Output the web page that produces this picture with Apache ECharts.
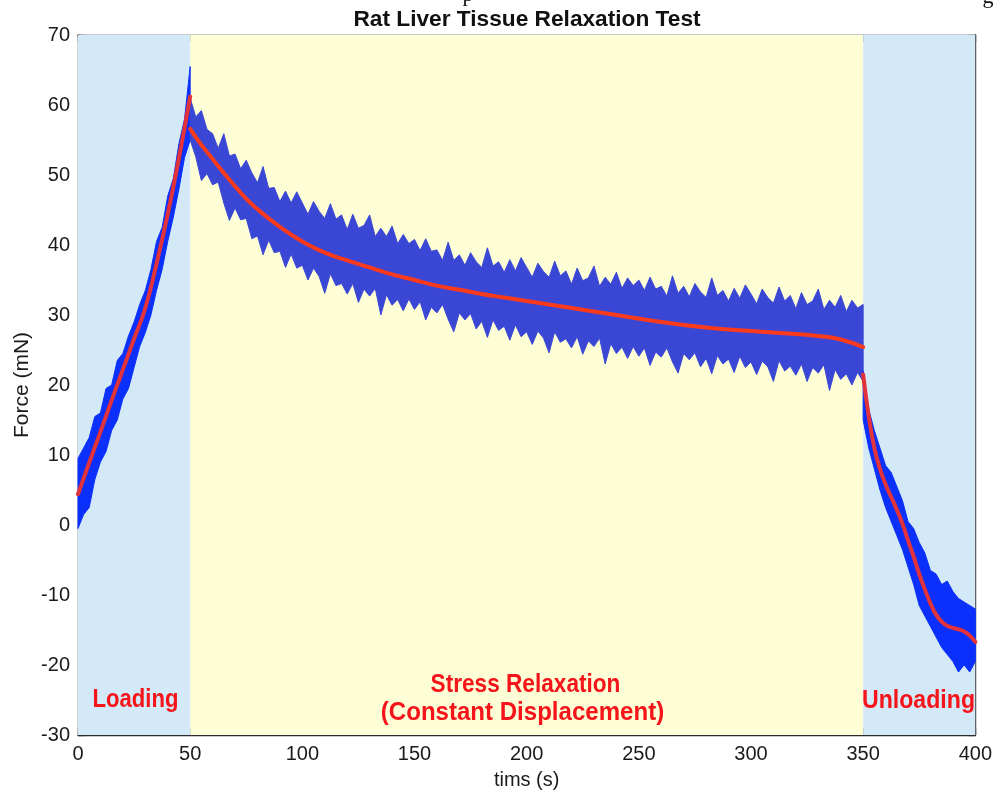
<!DOCTYPE html>
<html>
<head>
<meta charset="utf-8">
<script src="https://cdn.jsdelivr.net/npm/echarts@6/dist/echarts.min.js"></script>
<style>
html,body{margin:0;padding:0;background:#fff;}
#chart{width:995px;height:795px;}
</style>
</head>
<body>
<div id="chart"></div>
<script>
// ---------- data ----------
var xTicks = [0, 50, 100, 150, 200, 250, 300, 350, 400];
var yTicks = [-30, -20, -10, 0, 10, 20, 30, 40, 50, 60, 70];

var phaseStart = [0, 50, 350];
var phaseEnd   = [50, 350, 400];
var phaseNames = ['Loading', 'Stress Relaxation', 'Unloading'];

// raw (noisy) signal envelope: loading
var loadT = [0,2.5,5,7.5,10,12.5,15,17.5,20,22.5,25,27.5,30,32.5,35,37.5,40,42.5,45,47.5,50];
var loadUpper = [9.5,11.0,12.5,15.5,16.0,19.5,20.0,23.5,24.5,27.0,29.0,31.5,33.5,36.5,40.5,42.5,47.0,49.5,54.5,58.0,65.5];
var loadLower = [-0.5,1.5,2.5,6.5,9.0,10.5,13.5,15.0,18.0,19.5,22.5,25.5,27.5,30.0,33.5,36.5,40.5,44.0,48.0,52.5,55.0];

// raw (noisy) signal envelope: stress relaxation
var relaxT = [50,52.5,55,57.5,60,62.5,65,67.5,70,72.5,
  75,77.5,80,82.5,85,87.5,90,92.5,95,97.5,
  100,102.5,105,107.5,110,112.5,115,117.5,120,122.5,
  125,127.5,130,132.5,135,137.5,140,142.5,145,147.5,
  150,152.5,155,157.5,160,162.5,165,167.5,170,172.5,
  175,177.5,180,182.5,185,187.5,190,192.5,195,197.5,
  200,202.5,205,207.5,210,212.5,215,217.5,220,222.5,
  225,227.5,230,232.5,235,237.5,240,242.5,245,247.5,
  250,252.5,255,257.5,260,262.5,265,267.5,270,272.5,
  275,277.5,280,282.5,285,287.5,290,292.5,295,297.5,
  300,302.5,305,307.5,310,312.5,315,317.5,320,322.5,
  325,327.5,330,332.5,335,337.5,340,342.5,345,347.5,
  350];
var relaxUpper = [61.0,58.3,59.2,56.5,55.9,53.8,55.9,52.7,53.0,50.9,
  52.1,50.3,48.9,51.2,48.1,48.2,46.2,47.7,46.0,47.6,
  46.0,44.4,46.2,44.8,43.8,45.9,43.7,44.3,42.2,44.4,
  42.4,42.8,44.3,41.2,42.4,41.2,42.7,40.2,41.5,40.2,
  40.8,39.2,40.9,39.1,39.3,37.8,40.4,37.8,38.6,37.1,
  38.9,37.6,36.8,39.6,37.0,37.6,36.1,37.9,36.3,38.2,
  36.8,35.4,37.4,36.2,35.4,37.7,35.6,36.3,34.4,36.7,
  34.9,35.3,37.0,34.1,35.4,34.4,36.1,33.8,35.3,34.2,
  35.0,33.5,35.4,33.7,34.1,32.7,35.6,33.1,34.1,32.6,
  34.5,33.3,32.5,35.3,32.8,33.5,32.0,33.8,32.4,34.3,
  33.0,31.6,33.7,32.5,31.7,34.0,32.0,32.8,30.9,33.2,
  31.5,32.0,33.7,30.8,32.1,31.1,32.8,30.5,32.1,31.0,
  31.5];
var relaxLower = [55.0,52.6,49.2,50.2,48.6,49.0,46.0,43.5,45.3,43.6,
  43.8,40.9,41.3,38.6,40.7,38.9,39.1,36.8,38.7,36.7,
  37.1,35.0,36.7,35.5,33.1,35.9,34.2,34.5,33.0,34.5,
  31.8,33.7,32.7,33.8,30.0,32.9,31.4,32.2,30.6,32.3,
  30.8,31.9,29.3,31.1,30.3,31.5,29.4,27.6,30.3,29.3,
  30.2,28.0,29.1,26.8,29.3,27.8,28.4,26.4,28.6,26.9,
  27.6,25.8,27.7,26.7,24.6,27.6,26.1,26.6,25.3,26.9,
  24.4,26.3,25.5,26.7,23.0,25.9,24.5,25.4,23.8,25.5,
  24.1,25.3,22.8,24.7,24.0,25.3,23.3,21.7,24.5,23.6,
  24.6,22.6,23.8,21.6,24.2,23.0,23.7,21.8,24.1,22.5,
  23.3,21.5,23.4,22.6,20.5,23.5,22.0,22.7,21.4,23.0,
  20.5,22.5,21.7,22.9,19.2,22.2,20.8,21.6,20.0,21.8,
  20.5];

// raw (noisy) signal envelope: unloading
var unloadT = [350,352.5,355,357.5,360,362.5,365,367.5,370,372.5,375,377.5,380,382.5,385,387.5,390,392.5,395,397.5,400];
var unloadUpper = [22.0,16.5,13.5,11.0,8.5,7.5,5.5,3.5,0.5,-0.5,-2.5,-4.0,-6.5,-7.0,-8.5,-8.0,-9.5,-10.5,-11.0,-11.5,-12.0];
var unloadLower = [15.0,11.0,8.0,5.0,2.5,0.5,-1.5,-3.5,-6.0,-8.5,-11.5,-13.0,-14.5,-16.0,-17.5,-18.5,-19.5,-21.0,-20.0,-21.0,-19.5];

// fitted curves (red)
var loadRedT = [0,5,10,15,20,25,30,35,40,45,50];
var loadRed  = [4.4,8.9,13.3,17.8,22.2,26.6,31.0,37.3,44.4,52.4,61.2];
var relaxRedT = [50,55,60,65,70,75,80,90,100,110,120,130,140,150,160,170,180,190,200,220,240,260,280,300,320,330,340,350];
var relaxRed  = [56.6,54.3,52.3,50.3,48.4,46.6,45.1,42.6,40.5,38.9,37.8,36.8,35.8,35.0,34.2,33.6,33.0,32.5,32.0,31.0,30.0,29.0,28.2,27.7,27.3,27.0,26.5,25.4];
var unloadRedT = [350,352.5,355,357.5,360,362.5,365,367.5,370,372.5,375,377.5,380,382.5,385,387.5,390,392.5,395,397.5,400];
var unloadRed  = [21.5,15.5,11.0,8.0,5.8,4.0,2.2,0.2,-2.2,-4.5,-7.0,-9.2,-11.2,-12.8,-13.8,-14.4,-14.7,-14.9,-15.2,-15.8,-16.7];

// ---------- chart ----------
var BG_COLORS = ['#d3e9f7', '#fefed6', '#d3e9f7'];
var AXIS_COLOR = '#2b2b2b';
var FONT = '"Liberation Sans", Helvetica, Arial, sans-serif';
var ANN_FONT = '"Liberation Sans", Arial, sans-serif';

function pairs(T, V) { return T.map(function (t, i) { return [t, V[i]]; }); }

function bandSeries(name, T, U, L, color) {
  return {
    type: 'custom', name: name, coordinateSystem: 'cartesian2d', silent: true, z: 3,
    data: T.map(function (t, i) { return [t, L[i], U[i]]; }),
    encode: { x: 0, y: [1, 2] },
    renderItem: function (params, api) {
      if (params.dataIndex !== 0) return null;
      var pts = [];
      for (var i = 0; i < T.length; i++) pts.push(api.coord([T[i], U[i]]));
      for (var j = T.length - 1; j >= 0; j--) pts.push(api.coord([T[j], L[j]]));
      return { type: 'polygon', shape: { points: pts }, style: { fill: color, stroke: color, lineWidth: 1 } };
    }
  };
}

function redSeries(name, T, V, color) {
  return {
    type: 'line', name: name, data: pairs(T, V), showSymbol: false, symbol: 'none',
    smooth: 0.5, silent: true, z: 5,
    lineStyle: { color: color, width: 4, cap: 'round', join: 'round' }
  };
}

var chart = echarts.init(document.getElementById('chart'), null, { renderer: 'canvas' });

var axisCommon = {
  type: 'value',
  axisLine: { show: true, onZero: false, lineStyle: { color: AXIS_COLOR, width: 1.4 } },
  axisTick: { show: true, inside: true, length: 7, lineStyle: { color: AXIS_COLOR, width: 1.3 } },
  splitLine: { show: false }
};

function annot(text, x, y, sx) {
  return { type: 'text', x: x, y: y, z: 10, scaleX: sx, scaleY: 1,
           style: { text: text, font: 'bold 26px ' + ANN_FONT, fill: '#f5141a', textAlign: 'center', textVerticalAlign: 'middle' } };
}

var option = {
  animation: false,
  backgroundColor: '#ffffff',
  grid: { left: 78, right: 19, top: 35, bottom: 54, containLabel: false },
  xAxis: [
    Object.assign({}, axisCommon, {
      position: 'bottom', min: xTicks[0], max: xTicks[xTicks.length - 1], interval: xTicks[1] - xTicks[0],
      axisLabel: { show: true, fontSize: 20, color: '#1a1a1a', fontFamily: FONT, margin: 9 },
      name: 'tims (s)', nameLocation: 'middle', nameGap: 35,
      nameTextStyle: { fontSize: 20, color: '#1a1a1a', fontFamily: FONT }
    }),
    Object.assign({}, axisCommon, {
      position: 'top', min: xTicks[0], max: xTicks[xTicks.length - 1], interval: xTicks[1] - xTicks[0],
      axisLabel: { show: false }
    })
  ],
  yAxis: [
    Object.assign({}, axisCommon, {
      position: 'left', min: yTicks[0], max: yTicks[yTicks.length - 1], interval: yTicks[1] - yTicks[0],
      axisLabel: { show: true, fontSize: 20, color: '#1a1a1a', fontFamily: FONT, margin: 8 },
      name: 'Force (mN)', nameLocation: 'middle', nameGap: 45, nameRotate: 90, nameMoveOverlap: false,
      nameTextStyle: { fontSize: 21, color: '#1a1a1a', fontFamily: FONT }
    }),
    Object.assign({}, axisCommon, {
      position: 'right', min: yTicks[0], max: yTicks[yTicks.length - 1], interval: yTicks[1] - yTicks[0],
      axisLabel: { show: false }
    })
  ],
  series: [
    {
      type: 'custom', name: 'phases', coordinateSystem: 'cartesian2d', silent: true, z: 1,
      data: phaseStart.map(function (s, i) { return [s, phaseEnd[i]]; }),
      encode: { x: [0, 1] },
      renderItem: function (params, api) {
        var p0 = api.coord([api.value(0), yTicks[yTicks.length - 1]]);
        var p1 = api.coord([api.value(1), yTicks[0]]);
        return { type: 'rect', shape: { x: p0[0], y: p0[1], width: p1[0] - p0[0], height: p1[1] - p0[1] },
                 style: { fill: BG_COLORS[params.dataIndex] } };
      }
    },
    bandSeries('Loading raw', loadT, loadUpper, loadLower, '#0b30fb'),
    bandSeries('Relaxation raw', relaxT, relaxUpper, relaxLower, '#3a47d5'),
    bandSeries('Unloading raw', unloadT, unloadUpper, unloadLower, '#0b30fb'),
    redSeries('Loading fit', loadRedT, loadRed, '#e2323a'),
    redSeries('Relaxation fit', relaxRedT, relaxRed, '#fb3a1c'),
    redSeries('Unloading fit', unloadRedT, unloadRed, '#e2323a')
  ],
  graphic: [
    { type: 'text', x: 527, y: 8, z: 10, style: { text: 'Rat Liver Tissue Relaxation Test', font: 'bold 22.7px ' + FONT, fill: '#111', textAlign: 'center', textVerticalAlign: 'top' } },
    { type: 'text', x: 468, y: -16, z: 10, style: { text: 'p', font: '22px "Liberation Serif", serif', fill: '#111', textAlign: 'center', textVerticalAlign: 'top' } },
    { type: 'text', x: 988, y: -14, z: 10, style: { text: 'g', font: '22px "Liberation Serif", serif', fill: '#111', textAlign: 'center', textVerticalAlign: 'top' } },
    annot(phaseNames[0], 135.5, 700, 0.85),
    annot(phaseNames[1], 525.5, 685, 0.87),
    annot('(Constant Displacement)', 522.5, 713, 0.925),
    annot(phaseNames[2], 918.5, 701, 0.89)
  ]
};
chart.setOption(option);
</script>
</body>
</html>
